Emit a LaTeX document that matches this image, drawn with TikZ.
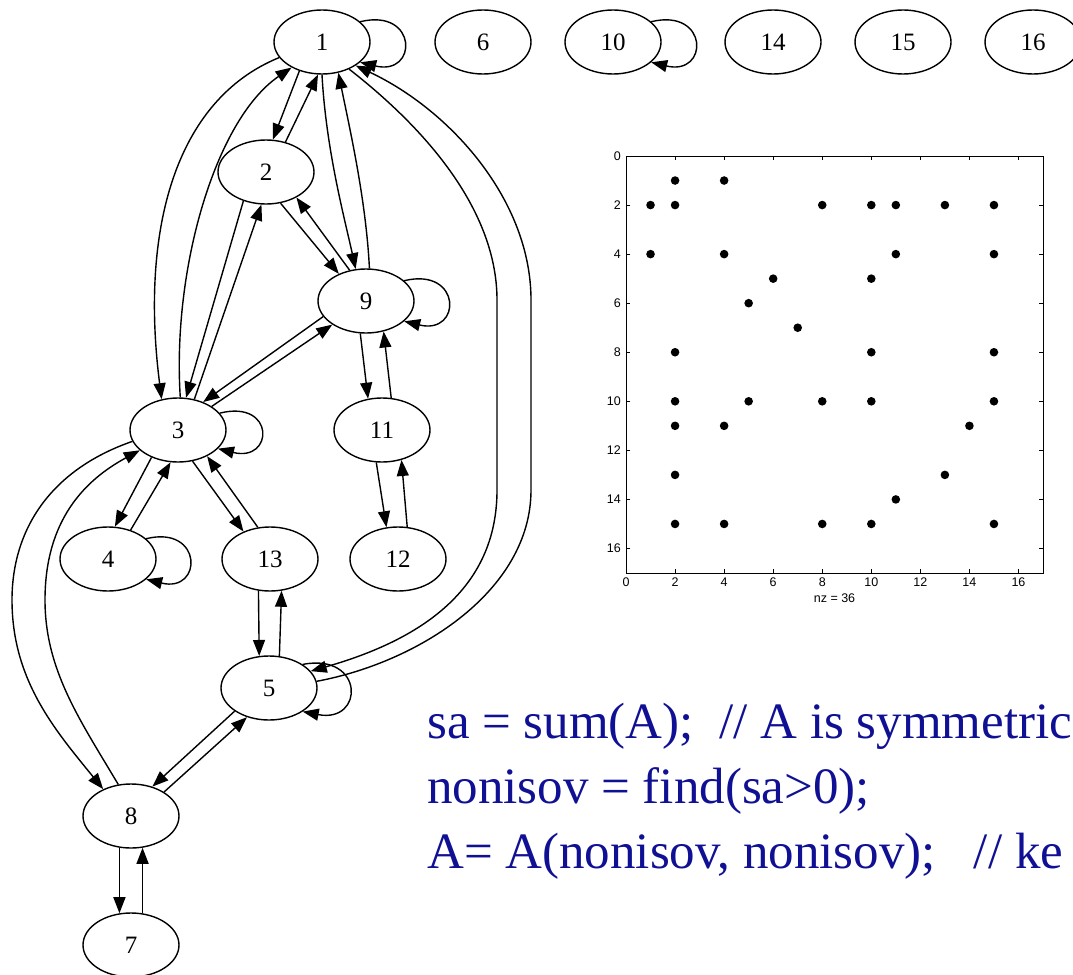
\documentclass[tikz,border=0pt]{standalone}
\usepackage{fontspec}
\setmainfont{Liberation Serif}
\newfontfamily\plotfont{Liberation Sans}
\usetikzlibrary{arrows.meta,shapes.geometric}
\definecolor{codeblue}{RGB}{16,16,148}
\tikzset{
  vtx/.style={ellipse,draw,line width=1.4pt,minimum width=96pt,minimum height=64pt,
              inner sep=0pt,font=\fontsize{25}{30}\selectfont},
  dlink/.style={line width=1.4pt,-{Triangle[length=16pt,width=12pt]}},
  axisline/.style={line width=0.9pt},
  ticklbl/.style={font=\plotfont\fontsize{12.5}{14}\selectfont,inner sep=1pt},
  spydot/.style={fill=black},
  codeline/.style={anchor=base west,inner sep=0pt,text=codeblue,
                   font=\fontsize{51}{60}\selectfont},
}
\begin{document}
\begin{tikzpicture}[x=1pt,y=-1pt]
\useasboundingbox (0,0) rectangle (1073,974);
\clip (0,0) rectangle (1073,974);
% vertices
\node[vtx] (n1) at (322,42) {1};
\node[vtx] (n6) at (483,42) {6};
\node[vtx] (n10) at (613,42) {10};
\node[vtx] (n14) at (773,42) {14};
\node[vtx] (n15) at (903,42) {15};
\node[vtx] (n16) at (1033,42) {16};
\node[vtx] (n2) at (266,172) {2};
\node[vtx] (n9) at (366,301) {9};
\node[vtx] (n3) at (178,430) {3};
\node[vtx] (n11) at (382,430) {11};
\node[vtx] (n4) at (108,559) {4};
\node[vtx] (n13) at (270,559) {13};
\node[vtx] (n12) at (398,559) {12};
\node[vtx] (n5) at (269,688) {5};
\node[vtx] (n8) at (131,816) {8};
\node[vtx] (n7) at (131,945) {7};
% self loops
\draw[dlink] (n1.28) .. controls +(58,-14) and +(58,14) .. (n1.-28);
\draw[dlink] (n10.28) .. controls +(58,-14) and +(58,14) .. (n10.-28);
\draw[dlink] (n9.28) .. controls +(58,-14) and +(58,14) .. (n9.-28);
\draw[dlink] (n3.22) .. controls +(56,-14) and +(56,14) .. (n3.-25);
\draw[dlink] (n4.28) .. controls +(57,-14) and +(57,14) .. (n4.-28);
\draw[dlink] (n5.35) .. controls +(62,-12) and +(62,12) .. (n5.-35);
% 1 -- 2, 1 -- 9
\draw[dlink] (n1.232) -- (n2.78);
\draw[dlink] (n2.57) -- (n1.263);
\draw[dlink] (n1.270) .. controls (326,150) and (345,220) .. (n9.108);
\draw[dlink] (n9.84) .. controls (366,200) and (350,130) .. (n1.298);
% 1 -- 3
\draw[dlink] (n1.200) .. controls (175,100) and (140,230) .. (n3.118);
\draw[dlink] (n3.86) .. controls (172,270) and (215,120) .. (n1.220);
% 1 -- 5, the long way round
\draw[dlink] (n1.-45) .. controls (440,140) and (497,220) .. (497,300) -- (497,490)
  .. controls (497,590) and (420,640) .. (n5.22);
\draw[dlink] (n5.8) .. controls (420,662) and (531,590) .. (531,490) -- (531,300)
  .. controls (531,200) and (450,110) .. (n1.-35);
% 2 -- 3, 2 -- 9
\draw[dlink] (n2.232) -- (n3.76);
\draw[dlink] (n3.62) -- (n2.262);
\draw[dlink] (n2.295) -- (n9.135);
\draw[dlink] (n9.118) -- (n2.320);
% 3 -- 9, 9 -- 11, 11 -- 12
\draw[dlink] (n9.200) -- (n3.48);
\draw[dlink] (n3.35) -- (n9.215);
\draw[dlink] (n9.260) -- (n11.114);
\draw[dlink] (n11.74) -- (n9.300);
\draw[dlink] (n11.260) -- (n12.110);
\draw[dlink] (n12.74) -- (n11.303);
% 3 -- 4, 3 -- 13
\draw[dlink] (n3.226) -- (n4.78);
\draw[dlink] (n4.52) -- (n3.257);
\draw[dlink] (n3.-65) -- (n13.134);
\draw[dlink] (n13.111) -- (n3.-42);
% 3 -- 8
\draw[dlink] (n3.194) .. controls (50,470) and (12,530) .. (12,600)
  .. controls (12,680) and (55,730) .. (n8.136);
\draw[dlink] (n8.112) .. controls (80,720) and (45,670) .. (45,600)
  .. controls (45,520) and (85,480) .. (n3.208);
% 13 -- 5, 5 -- 8, 8 -- 7
\draw[dlink] (n13.250) -- (n5.107);
\draw[dlink] (n5.72) -- (n13.290);
\draw[dlink] (n5.214) -- (n8.54);
\draw[dlink] (n8.36) -- (n5.233);
\draw[dlink] (n8.250) -- (n7.110);
\draw[dlink] (n7.70) -- (n8.290);
% spy plot of the matrix
\begin{scope}[shift={(626,156)},x=24.53pt,y=-24.53pt]
  \draw[axisline] (0,0) rectangle (17,17);
  \foreach \t in {0,2,...,16} {
    \draw[axisline] (\t,17) -- (\t,16.83) (\t,0) -- (\t,0.17)
                    (0,\t) -- (0.17,\t) (17,\t) -- (16.83,\t);
    \node[ticklbl,anchor=east] (ylab\t) at (-0.16,\t) {\t};
    \node[ticklbl,anchor=north] (xlab\t) at (\t,17.16) {\t};
  }
  \node[ticklbl,anchor=north] (nzlab) at (8.5,17.8) {nz = 36};
  \foreach \r/\c in {1/2,1/4,2/1,2/2,2/8,2/10,2/11,2/13,2/15,4/1,4/4,4/11,4/15,
                     5/6,5/10,6/5,7/7,8/2,8/10,8/15,10/2,10/5,10/8,10/10,10/15,
                     11/2,11/4,11/14,13/2,13/13,14/11,15/2,15/4,15/8,15/10,15/15}
    \fill[spydot] (\c,\r) circle[radius=4.3pt];
\end{scope}
% the commands
\node[codeline] (cmd1) at (427,738) {sa = sum(A);\ \ // A is symmetric};
\node[codeline] (cmd2) at (427,803) {nonisov = find(sa>0);};
\node[codeline] (cmd3) at (427,868) {A= A(nonisov, nonisov);\ \ \ // ke};
\end{tikzpicture}
\end{document}
